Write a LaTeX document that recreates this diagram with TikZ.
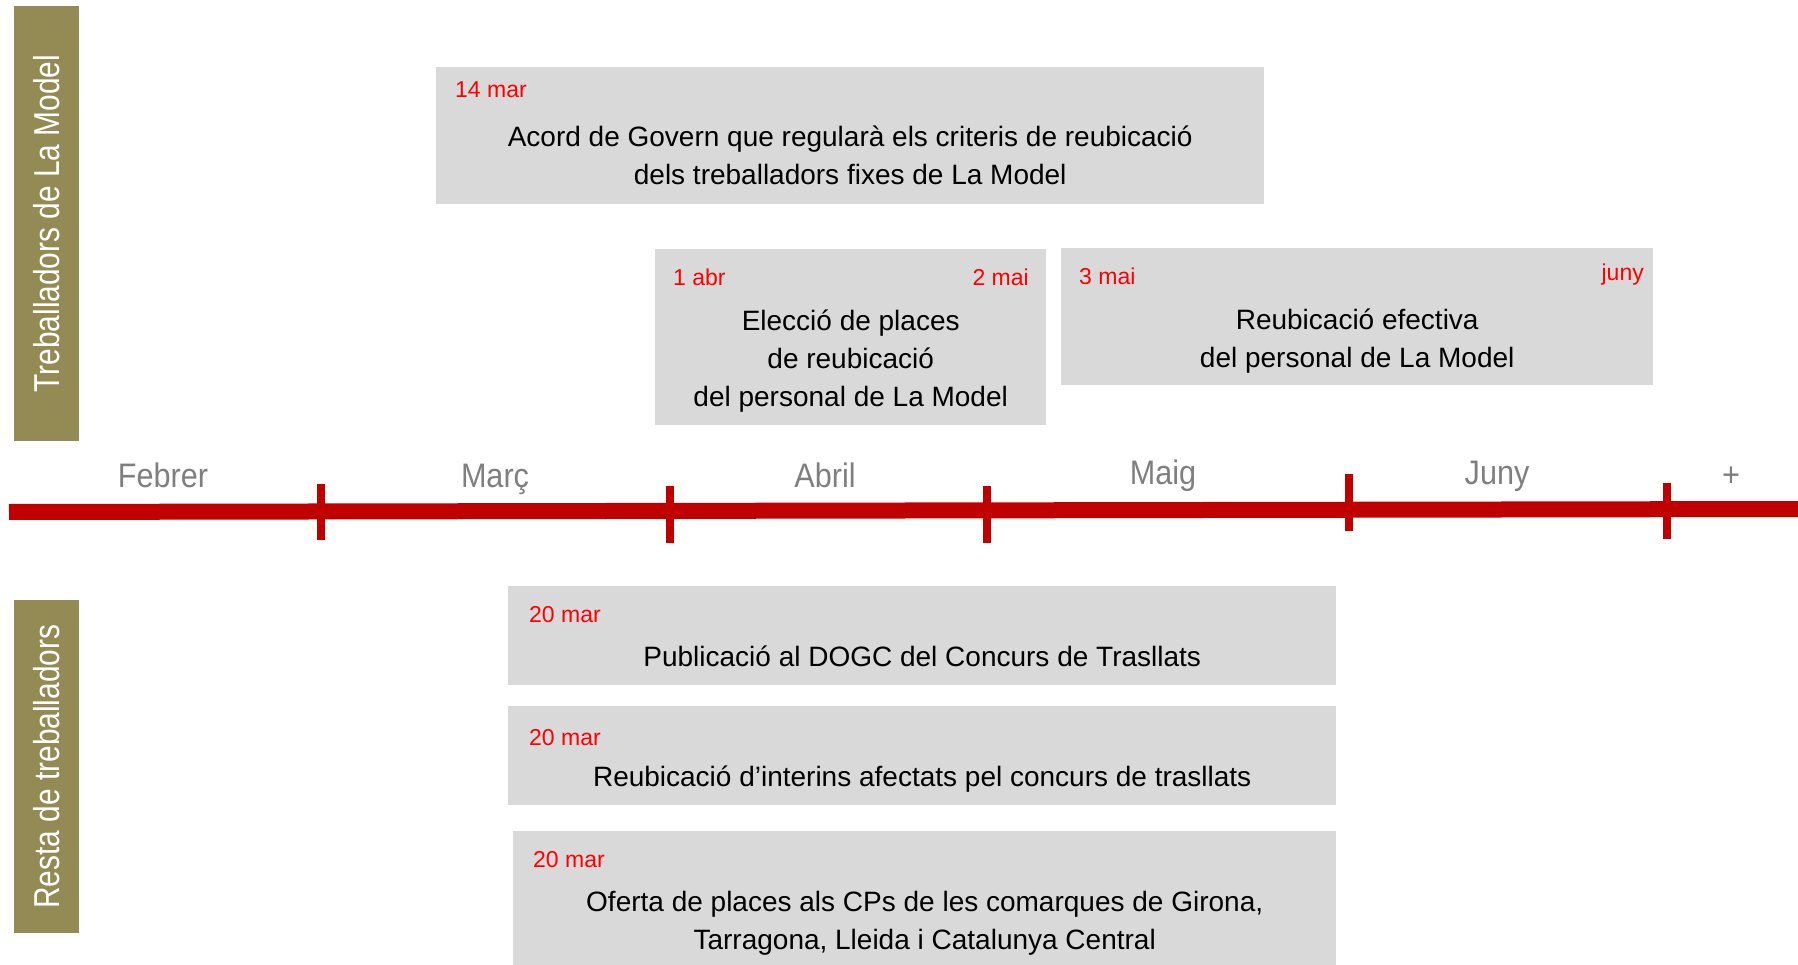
\documentclass[tikz,border=0pt]{standalone}
\usepackage{fontspec}
\setmainfont{Liberation Sans}
\newfontfamily\narrowfont[FakeStretch=0.83]{Liberation Sans}
\newfontfamily\monthfont[FakeStretch=0.9]{Liberation Sans}
\usetikzlibrary{positioning}

\definecolor{bandolive}{HTML}{948A54}
\definecolor{boxgrey}{HTML}{D9D9D9}
\definecolor{linered}{HTML}{C00000}
\definecolor{monthgrey}{HTML}{7F7F7F}
\definecolor{datered}{HTML}{FF0000}

\tikzset{
	band/.style={fill=bandolive, inner sep=0pt, anchor=north west},
	bandtext/.style={text=white, rotate=90, inner sep=0pt, font=\narrowfont\fontsize{36}{40}\selectfont},
	eventbox/.style={fill=boxgrey, inner sep=0pt, anchor=north west},
	eventtext/.style={align=center, anchor=base, inner sep=0pt, font=\fontsize{28}{38}\selectfont},
	datetext/.style={text=datered, inner sep=0pt, font=\fontsize{23}{26}\selectfont},
	month/.style={text=monthgrey, anchor=base, inner sep=0pt, font=\monthfont\fontsize{34}{40}\selectfont},
	monthtick/.style={draw=linered, line width=8pt}
}

\begin{document}
\begin{tikzpicture}[x=1pt,y=-1pt]

		\useasboundingbox (0,0) rectangle (1798,965);

		\node[band, minimum width=65, minimum height=435] (bandmodel) at (14,6) {};
		\node[bandtext] (bandmodeltxt) at (bandmodel.center) {Treballadors de La Model};
		\node[band, minimum width=65, minimum height=333] (bandresta) at (14,600) {};
		\node[bandtext] (bandrestatxt) at (bandresta.center) {Resta de treballadors};

		\node[eventbox, minimum width=828, minimum height=137] (acord) at (436,67) {};
		\node[datetext, anchor=base west] (acorddate) at (455,98) {14 mar};
		\node[eventtext] (acordtxt) at (acord.center |- 0,185) {Acord de Govern que regularà els criteris de reubicació\\dels treballadors fixes de La Model};

		\node[eventbox, minimum width=391, minimum height=176] (eleccio) at (655,249) {};
		\node[datetext, anchor=base west] (eleccioini) at (673,286) {1 abr};
		\node[datetext, anchor=base east] (elecciofi) at (1029,286) {2 mai};
		\node[eventtext] (ecciotxt) at (eleccio.center |- 0,406) {Elecció de places\\de reubicació\\del personal de La Model};

		\node[eventbox, minimum width=592, minimum height=137] (efectiva) at (1061,248) {};
		\node[datetext, anchor=base west] (efectivaini) at (1079,285) {3 mai};
		\node[datetext, anchor=base east] (efectivafi) at (1644,281) {juny};
		\node[eventtext] (efectivatxt) at (efectiva.center |- 0,367) {Reubicació efectiva\\del personal de La Model};

		\coordinate (tstart) at (9,512);
		\coordinate (tend) at (1798,509);
		\draw[linered, line width=16pt] (tstart) -- (tend);

		\foreach \x/\ya/\yb in {320.5/484/540, 669.5/486/543, 986.5/486/543, 1349/474/531, 1667/483/539}
		\draw[monthtick] (\x,\ya) -- (\x,\yb);

		\foreach \x/\yb/\mtext [count=\i] in {163/487/Febrer, 495/487/Març, 825/487/Abril, 1163/484/Maig, 1497/484/Juny, 1731/486/+}
		\node[month] (month\i) at (\x,\yb) {\mtext};

		\node[eventbox, minimum width=828, minimum height=99] (dogc) at (508,586) {};
		\node[datetext, anchor=base west] (dogcdate) at (529,622) {20 mar};
		\node[eventtext] (dogctxt) at (dogc.center |- 0,666) {Publicació al DOGC del Concurs de Trasllats};

		\node[eventbox, minimum width=828, minimum height=99] (interins) at (508,706) {};
		\node[datetext, anchor=base west] (interinsdate) at (529,745) {20 mar};
		\node[eventtext] (interinstxt) at (interins.center |- 0,786) {Reubicació d’interins afectats pel concurs de trasllats};

		\node[eventbox, minimum width=823, minimum height=134] (oferta) at (513,831) {};
		\node[datetext, anchor=base west] (ofertadate) at (533,867) {20 mar};
		\node[eventtext] (ofertatxt) at (oferta.center |- 0,949) {Oferta de places als CPs de les comarques de Girona,\\Tarragona, Lleida i Catalunya Central};

\end{tikzpicture}
\end{document}
